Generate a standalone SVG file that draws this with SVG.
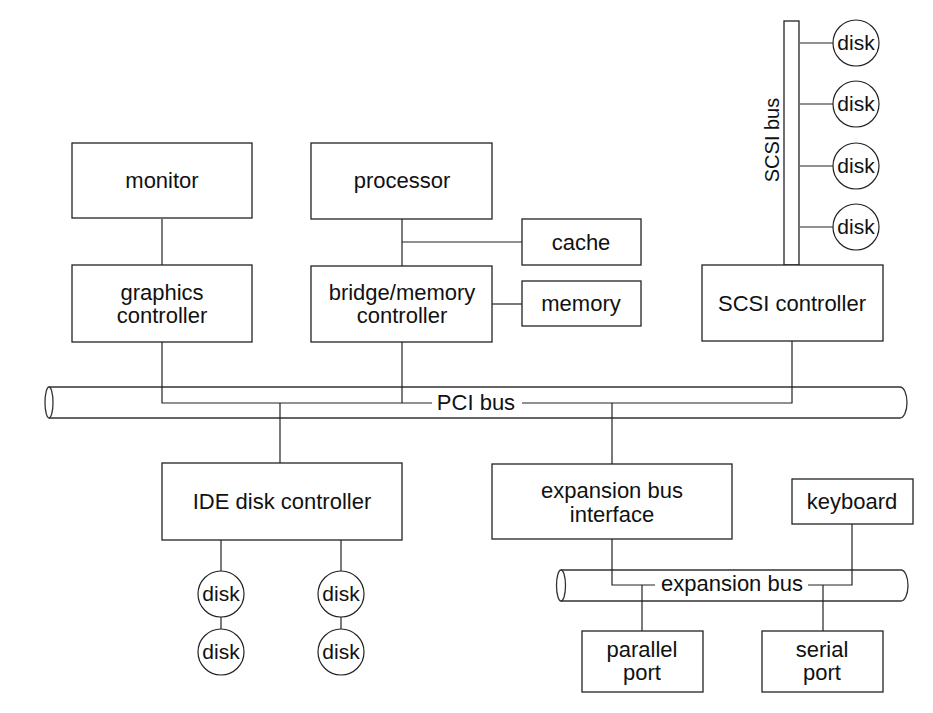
<svg xmlns="http://www.w3.org/2000/svg" width="933" height="713" viewBox="0 0 933 713">
<style>
.box{fill:#fff;stroke:#222;stroke-width:1.3}
.disk{fill:#fff;stroke:#222;stroke-width:1.2}
.ln{fill:none;stroke:#222;stroke-width:1.2}
.bus{fill:none;stroke:#333;stroke-width:1.3}
text{font-family:"Liberation Sans",Arial,sans-serif;font-size:22px;fill:#111;text-anchor:middle}
.dt{font-size:21px}
</style>
<rect width="933" height="713" fill="#fff"/>
<g id="pci-bus">
<path class="bus" d="M49 387 L900 387 A7 15.5 0 0 1 900 418 L49 418"/>
<ellipse class="bus" cx="49" cy="402.5" rx="4" ry="15.5"/>
<text x="476" y="410">PCI bus</text>
</g>
<g id="expansion-bus">
<path class="bus" d="M561 570 L901 570 A7 15.5 0 0 1 901 601 L561 601"/>
<ellipse class="bus" cx="561" cy="585.5" rx="4.5" ry="15.5"/>
<text x="732" y="591">expansion bus</text>
</g>
<g id="scsi-bus">
<rect class="box" x="784" y="21" width="15" height="244"/>
<text transform="translate(779,140) rotate(-90)" style="font-size:20px">SCSI bus</text>
</g>
<g id="connectors">
<path class="ln" d="M162 219 V265"/>
<path class="ln" d="M402 219 V266"/>
<path class="ln" d="M402 242 H522"/>
<path class="ln" d="M492 304 H522"/>
<path class="ln" d="M162 342 V403 H432"/>
<path class="ln" d="M402 342 V403"/>
<path class="ln" d="M522 403 H792 V341"/>
<path class="ln" d="M280 403 V463"/>
<path class="ln" d="M612 403 V464"/>
<path class="ln" d="M800 43 H833 M800 104 H833 M800 166 H833 M800 227 H833"/>
<path class="ln" d="M221 540 V571 M221 617 V629 M341 540 V571 M341 617 V629"/>
<path class="ln" d="M612 539 V585 H655"/>
<path class="ln" d="M808 585 H852 V524"/>
<path class="ln" d="M642 585 V631"/>
<path class="ln" d="M823 585 V631"/>
</g>
<g id="monitor"><rect class="box" x="72" y="143" width="180" height="75"/><text x="162" y="188">monitor</text></g>
<g id="graphics-controller"><rect class="box" x="72" y="265" width="180" height="77"/><text x="162" y="300">graphics</text><text x="162" y="323">controller</text></g>
<g id="processor"><rect class="box" x="311" y="143" width="181" height="76"/><text x="402" y="188">processor</text></g>
<g id="cache"><rect class="box" x="522" y="219" width="119" height="46"/><text x="581" y="250">cache</text></g>
<g id="bridge"><rect class="box" x="311" y="266" width="181" height="76"/><text x="402" y="300">bridge/memory</text><text x="402" y="323">controller</text></g>
<g id="memory"><rect class="box" x="522" y="281" width="119" height="45"/><text x="581" y="311">memory</text></g>
<g id="scsi-controller"><rect class="box" x="702" y="265" width="181" height="76"/><text x="792" y="311">SCSI controller</text></g>
<g id="scsi-disk1"><circle class="disk" cx="856" cy="43" r="23"/><text class="dt" x="856" y="50">disk</text></g>
<g id="scsi-disk2"><circle class="disk" cx="856" cy="104" r="23"/><text class="dt" x="856" y="111">disk</text></g>
<g id="scsi-disk3"><circle class="disk" cx="856" cy="166" r="23"/><text class="dt" x="856" y="173">disk</text></g>
<g id="scsi-disk4"><circle class="disk" cx="856" cy="227" r="23"/><text class="dt" x="856" y="234">disk</text></g>
<g id="ide-controller"><rect class="box" x="162" y="463" width="240" height="77"/><text x="282" y="509">IDE disk controller</text></g>
<g id="ide-disk1"><circle class="disk" cx="221" cy="594" r="23"/><text class="dt" x="221" y="601">disk</text></g>
<g id="ide-disk2"><circle class="disk" cx="221" cy="652" r="23"/><text class="dt" x="221" y="659">disk</text></g>
<g id="ide-disk3"><circle class="disk" cx="341" cy="594" r="23"/><text class="dt" x="341" y="601">disk</text></g>
<g id="ide-disk4"><circle class="disk" cx="341" cy="652" r="23"/><text class="dt" x="341" y="659">disk</text></g>
<g id="expansion-interface"><rect class="box" x="492" y="464" width="240" height="75"/><text x="612" y="498">expansion bus</text><text x="612" y="522">interface</text></g>
<g id="keyboard"><rect class="box" x="792" y="479" width="121" height="45"/><text x="852" y="509">keyboard</text></g>
<g id="parallel-port"><rect class="box" x="582" y="631" width="121" height="61"/><text x="642" y="657">parallel</text><text x="642" y="680">port</text></g>
<g id="serial-port"><rect class="box" x="762" y="631" width="121" height="61"/><text x="822" y="657">serial</text><text x="822" y="680">port</text></g>
</svg>
